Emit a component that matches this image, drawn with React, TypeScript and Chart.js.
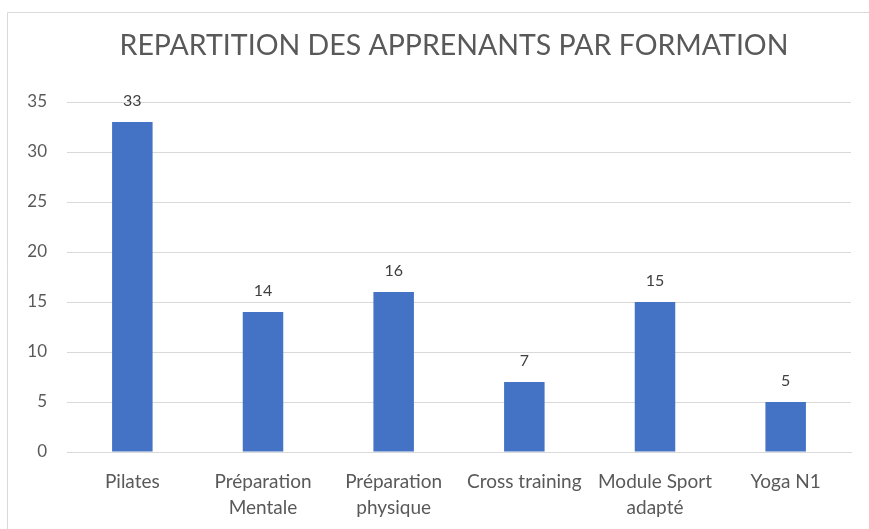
import React, { useEffect, useRef } from "react";
import { Chart, registerables } from "chart.js";

Chart.register(...registerables);

const categories: (string | string[])[] = [
  "Pilates",
  ["Préparation", "Mentale"],
  ["Préparation", "physique"],
  "Cross training",
  ["Module Sport", "adapté"],
  "Yoga N1",
];
const values: number[] = [33, 14, 16, 7, 15, 5];
const yTicks: number[] = [0, 5, 10, 15, 20, 25, 30, 35];
const titleText = "REPARTITION DES APPRENANTS PAR FORMATION";

const FONT = "Lato, 'Open Sans', sans-serif";

const frame = {
  id: "frame",
  beforeDraw(chart: any) {
    const ctx = chart.ctx;
    ctx.save();
    ctx.fillStyle = "#ffffff";
    ctx.fillRect(0, 0, chart.width, chart.height);
    ctx.strokeStyle = "#d9d9d9";
    ctx.lineWidth = 1;
    ctx.beginPath();
    ctx.moveTo(7.5, chart.height);
    ctx.lineTo(7.5, 12.5);
    ctx.lineTo(chart.width, 12.5);
    ctx.stroke();
    ctx.fillStyle = "#595959";
    ctx.font = `28.5px ${FONT}`;
    ctx.textAlign = "center";
    ctx.textBaseline = "middle";
    ctx.fillText(titleText, 454, 46);
    ctx.restore();
  },
};

const dataLabels = {
  id: "dataLabels",
  afterDatasetsDraw(chart: any) {
    const ctx = chart.ctx;
    const meta = chart.getDatasetMeta(0);
    ctx.save();
    ctx.fillStyle = "#404040";
    ctx.font = `16px ${FONT}`;
    ctx.textAlign = "center";
    ctx.textBaseline = "middle";
    meta.data.forEach((bar: any, i: number) => {
      ctx.fillText(String(values[i]), bar.x, bar.y - 21);
    });
    ctx.restore();
  },
};

export default function App() {
  const ref = useRef<HTMLCanvasElement>(null);
  useEffect(() => {
    document.body.style.margin = "0";
    const chart = new Chart(ref.current!, {
      type: "bar",
      data: {
        labels: categories,
        datasets: [
          {
            data: values,
            backgroundColor: "#4472C4",
            barPercentage: 0.31,
            categoryPercentage: 1,
          },
        ],
      },
      options: {
        animation: false,
        responsive: false,
        layout: { padding: { left: 0, right: 18, top: 102, bottom: 0 } },
        plugins: {
          legend: { display: false },
          tooltip: { enabled: false },
          title: { display: false },
        },
        scales: {
          x: {
            afterFit: (s: any) => {
              s.height = 77;
            },
            grid: { display: false, drawTicks: false },
            border: { color: "#d9d9d9" },
            ticks: {
              color: "#595959",
              font: { family: FONT, size: 19, lineHeight: "26px" as any },
              padding: 17,
              maxRotation: 0,
              autoSkip: false,
            },
          },
          y: {
            min: 0,
            max: 35,
            afterBuildTicks: (s: any) => {
              s.ticks = yTicks.map((v) => ({ value: v }));
            },
            afterFit: (s: any) => {
              s.width = 67;
            },
            grid: { color: "#d9d9d9", drawTicks: false },
            border: { display: false },
            ticks: {
              color: "#595959",
              font: { family: FONT, size: 17 },
              padding: 20,
            },
          },
        },
      },
      plugins: [frame, dataLabels],
    });
    return () => chart.destroy();
  }, []);
  return (
    <div style={{ position: "absolute", left: 0, top: 0, width: 869, height: 529 }}>
      <canvas ref={ref} width={869} height={529} style={{ display: "block" }} />
    </div>
  );
}
